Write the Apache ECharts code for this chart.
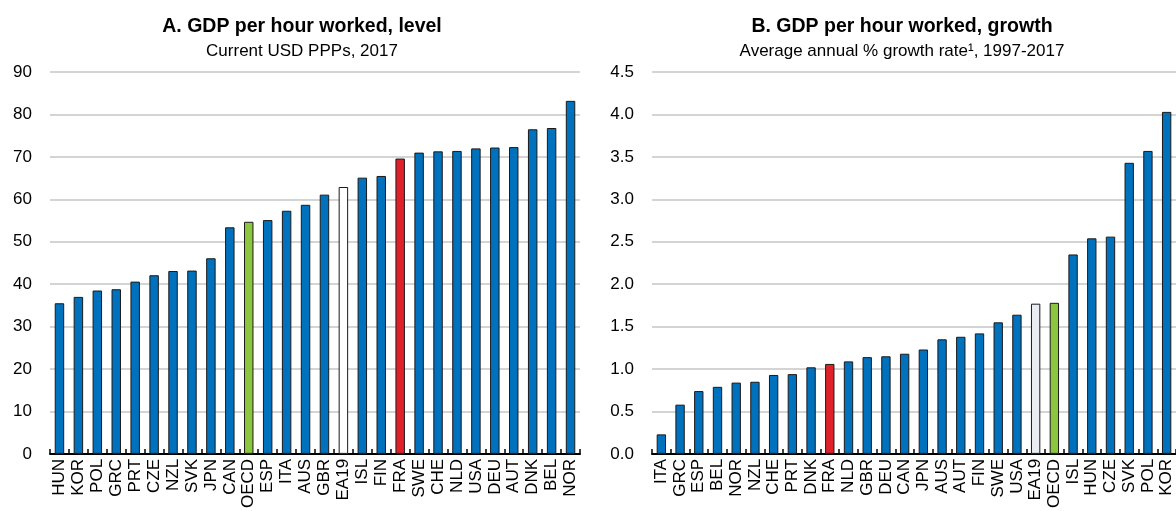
<!DOCTYPE html>
<html>
<head>
<meta charset="utf-8">
<script src="https://cdn.jsdelivr.net/npm/echarts@6/dist/echarts.min.js"></script>
<style>
  html, body { margin: 0; padding: 0; background: #fff; }
  #chart { width: 1176px; height: 511px; }
</style>
</head>
<body>
<div id="chart"></div>
<script>
// Panel A: GDP per hour worked, level (current USD PPPs, 2017)
const levelCats = ['HUN', 'KOR', 'POL', 'GRC', 'PRT', 'CZE', 'NZL', 'SVK', 'JPN', 'CAN', 'OECD', 'ESP', 'ITA', 'AUS',
  'GBR', 'EA19', 'ISL', 'FIN', 'FRA', 'SWE', 'CHE', 'NLD', 'USA', 'DEU', 'AUT', 'DNK', 'BEL', 'NOR']
const levelVals = [35.5, 37.0, 38.5, 38.8, 40.6, 42.1, 43.1, 43.2, 46.1, 53.4, 54.7, 55.1, 57.3, 58.7,
  61.1, 62.9, 65.1, 65.5, 69.6, 71.0, 71.3, 71.4, 72.0, 72.2, 72.3, 76.5, 76.8, 83.2]
const levelTicks = { min: 0, max: 90, interval: 10 }

// Panel B: GDP per hour worked, growth (average annual % growth, 1997-2017)
const growthCats = ['ITA', 'GRC', 'ESP', 'BEL', 'NOR', 'NZL', 'CHE', 'PRT', 'DNK', 'FRA', 'NLD', 'GBR', 'DEU', 'CAN',
  'JPN', 'AUS', 'AUT', 'FIN', 'SWE', 'USA', 'EA19', 'OECD', 'ISL', 'HUN', 'CZE', 'SVK', 'POL', 'KOR']
const growthVals = [0.23, 0.58, 0.74, 0.79, 0.84, 0.85, 0.93, 0.94, 1.02, 1.06, 1.09, 1.14, 1.15, 1.18,
  1.23, 1.35, 1.38, 1.42, 1.55, 1.64, 1.77, 1.78, 2.35, 2.54, 2.56, 3.43, 3.57, 4.03]
const growthTicks = { min: 0, max: 4.5, interval: 0.5 }

const BLUE = '#0071bc'
const RED = '#e0202a'
const GREEN = '#8cc63f'
const FONT = '"Liberation Sans", Arial, sans-serif'

function barColor(cat, ea19Color) {
  if (cat === 'FRA') return RED
  if (cat === 'OECD') return GREEN
  if (cat === 'EA19') return ea19Color
  return BLUE
}

function xAxis(gridIndex, cats) {
  return {
    type: 'category', gridIndex, data: cats,
    axisLine: { lineStyle: { color: '#000', width: 2 } },
    axisTick: { show: true, inside: true, length: 5, lineStyle: { color: '#000', width: 1.5 } },
    axisLabel: { rotate: 90, interval: 0, margin: 5, color: '#000', fontSize: 17, fontFamily: FONT },
    splitLine: { show: false }
  }
}

function yAxis(gridIndex, t, digits) {
  return {
    type: 'value', gridIndex, min: t.min, max: t.max, interval: t.interval,
    axisLine: { show: false }, axisTick: { show: false },
    axisLabel: { color: '#000', fontSize: 17, fontFamily: FONT, margin: 18, formatter: v => v.toFixed(digits) },
    splitLine: { lineStyle: { color: '#c6c6c6', width: 1.5 } }
  }
}

function barSeries(idx, cats, vals, ea19Color) {
  return {
    type: 'bar', xAxisIndex: idx, yAxisIndex: idx, barWidth: '50%',
    data: vals.map((v, i) => ({
      value: v,
      itemStyle: { color: barColor(cats[i], ea19Color), borderColor: '#1a1a1a', borderWidth: 1 }
    }))
  }
}

function panelTitle(text, subtext, x) {
  return {
    text, subtext, left: x, top: 12, textAlign: 'center', itemGap: 6,
    textStyle: { fontFamily: FONT, fontSize: 19.5, fontWeight: 'bold', color: '#000' },
    subtextStyle: { fontFamily: FONT, fontSize: 17, color: '#000' }
  }
}

const chart = echarts.init(document.getElementById('chart'))
chart.setOption({
  animation: false,
  title: [
    panelTitle('A. GDP per hour worked, level', 'Current USD PPPs, 2017', 297),
    panelTitle('B. GDP per hour worked, growth', 'Average annual % growth rate¹, 1997-2017', 897)
  ],
  grid: [
    { left: 50, top: 72, width: 530, height: 386 },
    { left: 652, top: 72, width: 529, height: 386 }
  ],
  xAxis: [xAxis(0, levelCats), xAxis(1, growthCats)],
  yAxis: [yAxis(0, levelTicks, 0), yAxis(1, growthTicks, 1)],
  series: [
    barSeries(0, levelCats, levelVals, '#ffffff'),
    barSeries(1, growthCats, growthVals, '#e9ecf2')
  ]
})
</script>
</body>
</html>
